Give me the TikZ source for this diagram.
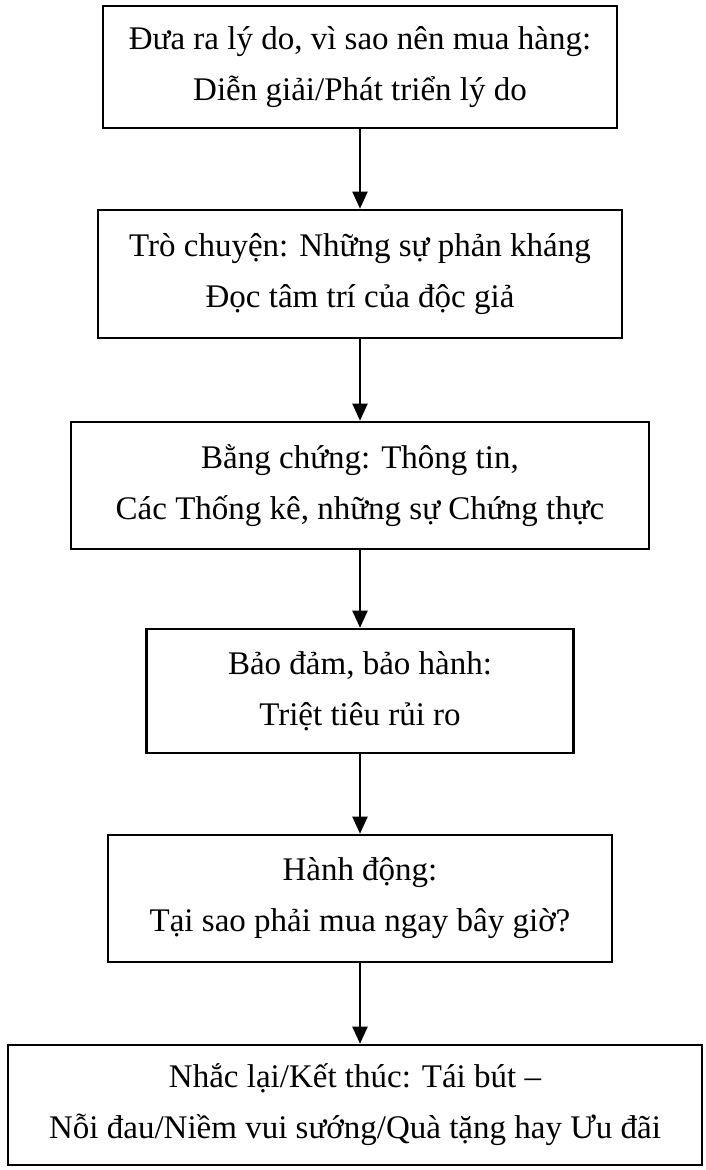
\documentclass[tikz,border=0pt]{standalone}
\usepackage{fontspec}
\setmainfont{Liberation Serif}
\usepackage{tikz}
\usetikzlibrary{arrows.meta}

\tikzset{
  box/.style={draw, line width=2.6pt, inner sep=0pt, minimum height=124pt, align=center, font=\fontsize{33}{51}\selectfont},
  arr/.style={line width=2pt, -{Triangle[width=15pt,length=17pt]}}
}

\begin{document}
\begin{tikzpicture}[x=1pt,y=-1pt]
\useasboundingbox (0,0) rectangle (705,1170);
\node [box, minimum width=514pt, minimum height=122pt] (reason) at (360,67) {Đưa ra lý do, vì sao nên mua hàng:\\Diễn giải/Phát triển lý do};
\node [box, minimum width=524pt, minimum height=128pt] (talk) at (360,274) {Trò chuyện: Những sự phản kháng\\Đọc tâm trí của độc giả};
\node [box, minimum width=578pt, minimum height=127pt] (proof) at (360,485.5) {Bằng chứng: Thông tin,\\Các Thống kê, những sự Chứng thực};
\node [box, minimum width=427pt, minimum height=124pt] (guarantee) at (360,691) {Bảo đảm, bảo hành:\\Triệt tiêu rủi ro};
\node [box, minimum width=504pt, minimum height=127pt] (action) at (360,898.5) {Hành động:\\Tại sao phải mua ngay bây giờ?};
\node [box, minimum width=694pt, minimum height=120pt] (recap) at (355,1105) {Nhắc lại/Kết thúc: Tái bút --\\Nỗi đau/Niềm vui sướng/Quà tặng hay Ưu đãi};
\draw [arr] (reason) -- (talk);
\draw [arr] (talk) -- (proof);
\draw [arr] (proof) -- (guarantee);
\draw [arr] (guarantee) -- (action);
\draw [arr] (action.south) -- (action.south |- recap.north);
\end{tikzpicture}
\end{document}
